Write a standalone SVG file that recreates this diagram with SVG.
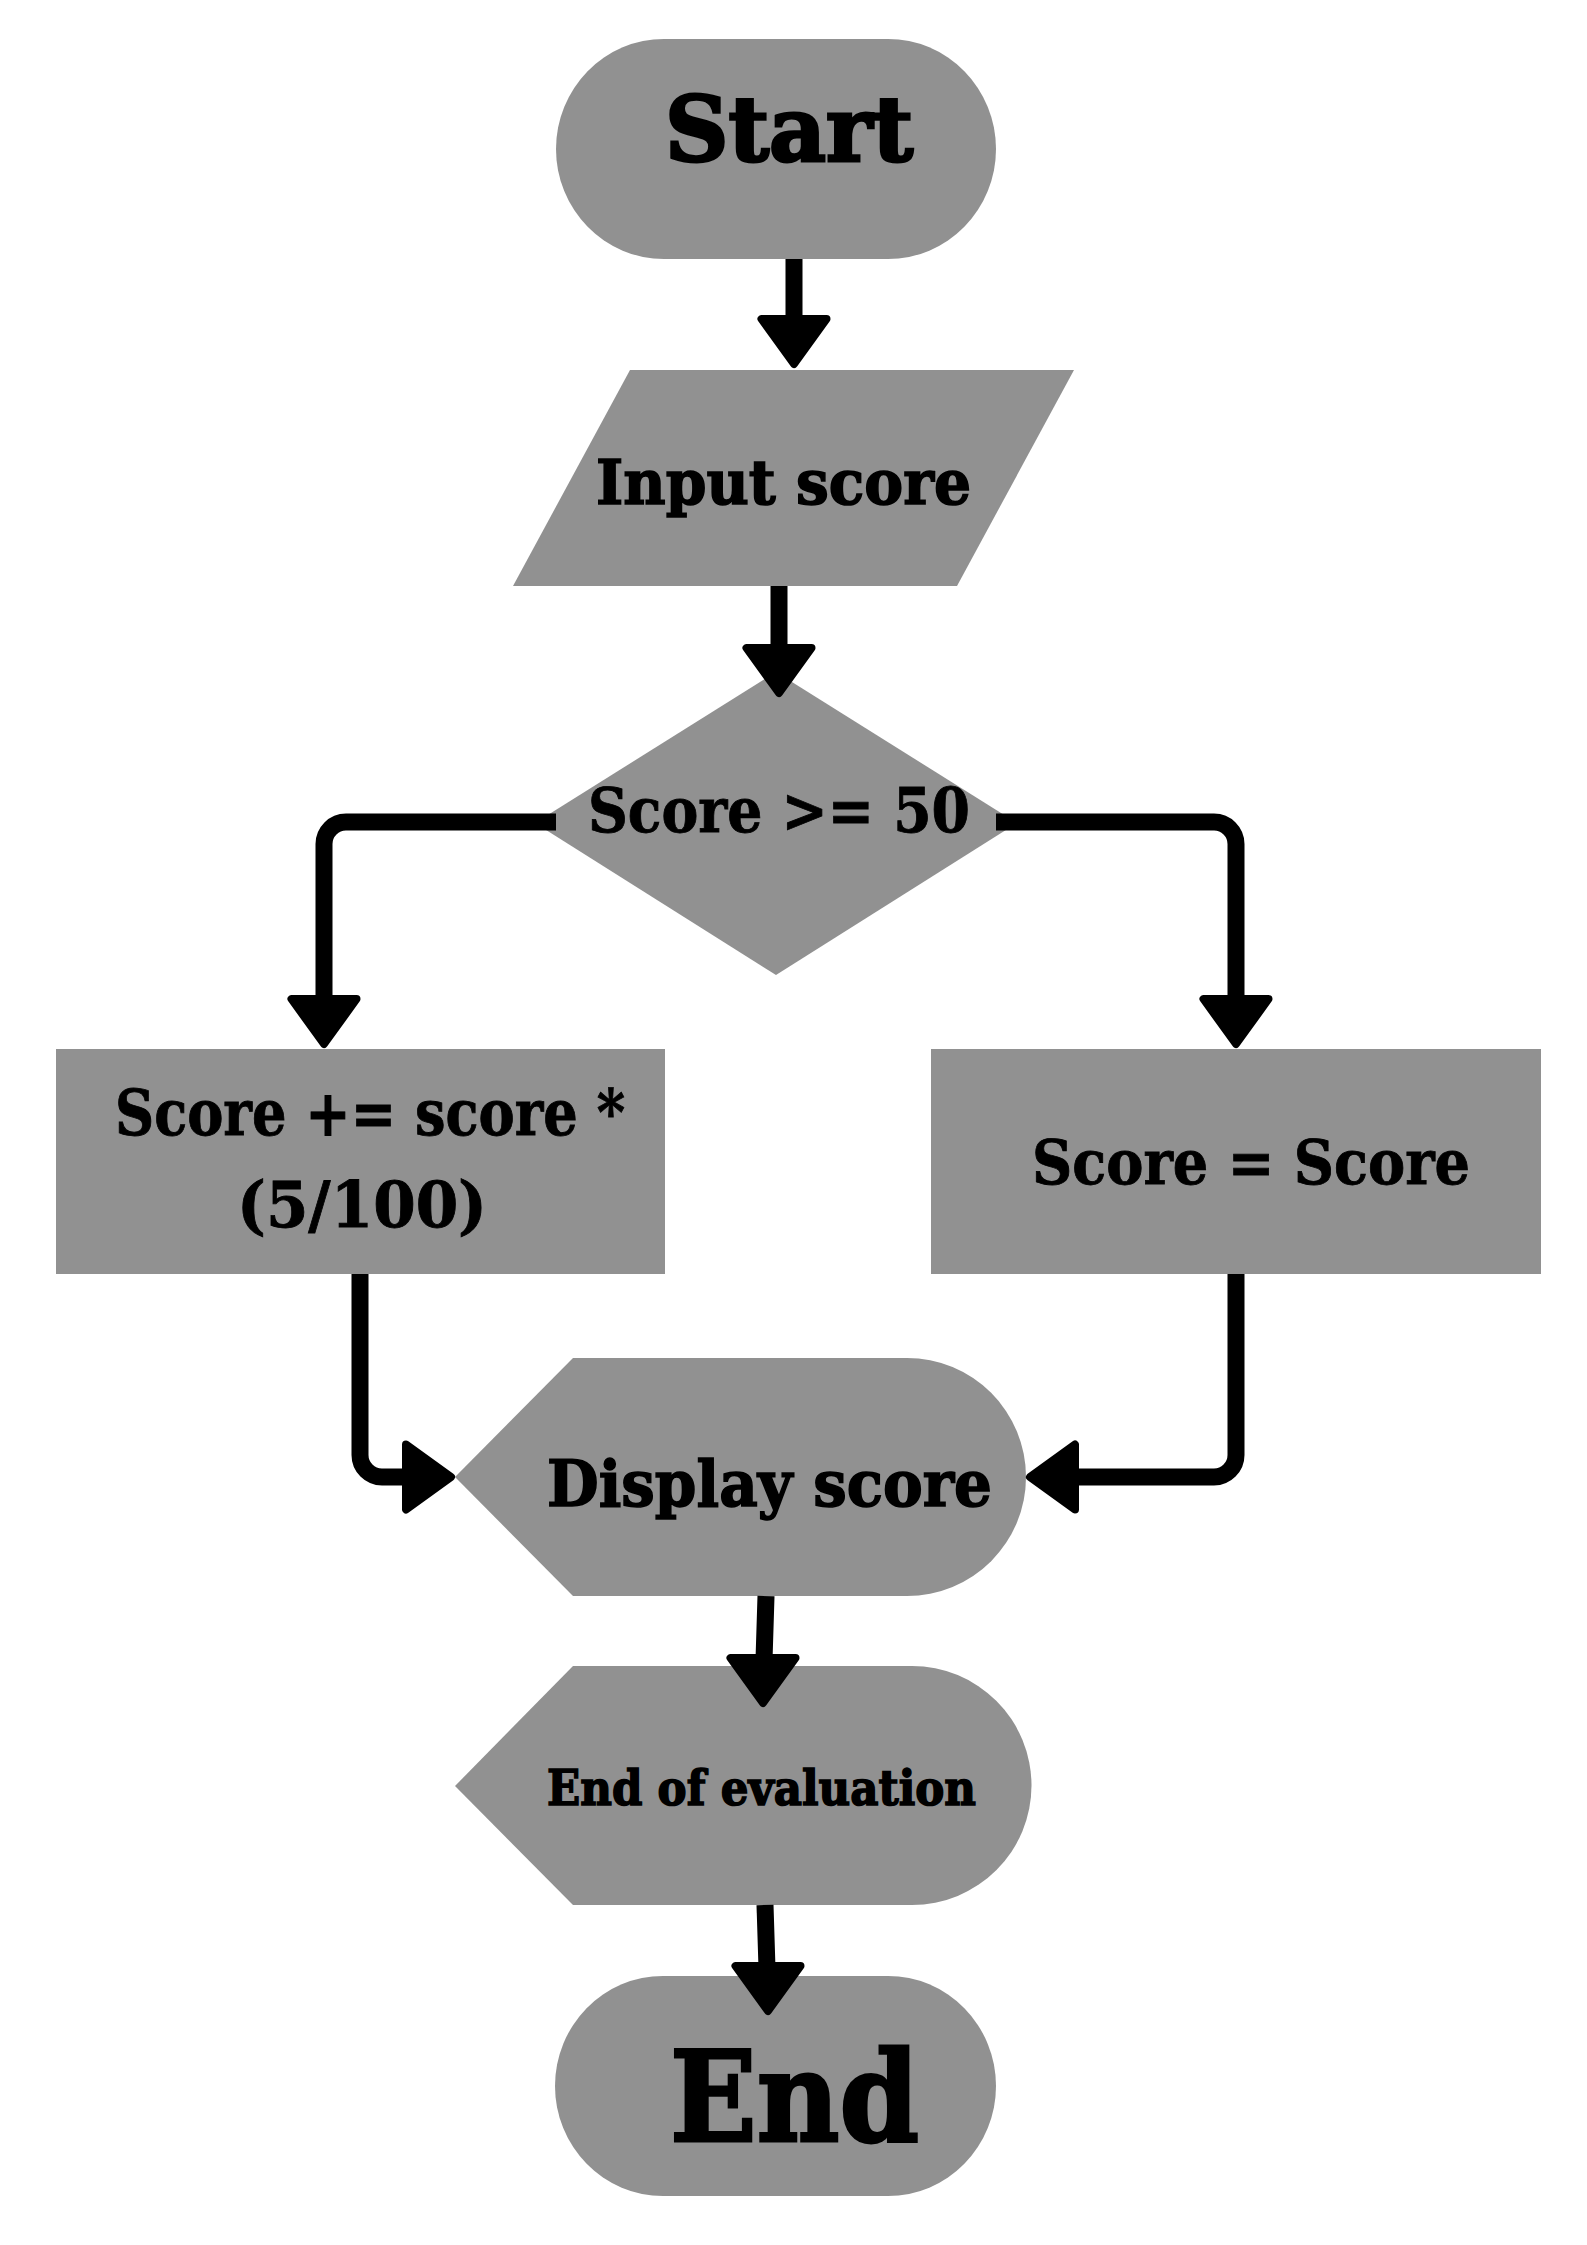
<svg xmlns="http://www.w3.org/2000/svg" width="1587" height="2245" viewBox="0 0 1587 2245">
  <style>
    .shape { fill: #919191; }
    .wire { fill: none; stroke: #000; stroke-width: 17; }
    .head { fill: #000; stroke: #000; stroke-width: 8; stroke-linejoin: round; }
    .slab { font-family: "DejaVu Serif", "Liberation Serif", serif; font-weight: bold; fill: #000; stroke: #000; stroke-width: 1.6; }
    .big { stroke-width: 3; }
    .cond { font-family: "DejaVu Serif Condensed", "DejaVu Serif", "Liberation Serif", serif; font-stretch: condensed; font-weight: bold; fill: #000; stroke: #000; stroke-width: 0.8; }
  </style>
  <defs>
    <!-- arrowhead pointing down, tip at the origin -->
    <path id="ah" class="head" d="M-32.5,-49 L32.5,-49 L0,-4 Z"/>
  </defs>
  <rect width="1587" height="2245" fill="#fff"/>

  <g id="start">
    <rect class="shape" x="556" y="39" width="440" height="220" rx="108" ry="110"/>
    <text class="slab big" x="665" y="161" font-size="89" textLength="248" lengthAdjust="spacingAndGlyphs">Start</text>
  </g>

  <g id="input">
    <polygon class="shape" points="630,370 1074,370 957,586 513,586"/>
    <text class="slab" x="596" y="504" font-size="62" textLength="375" lengthAdjust="spacingAndGlyphs">Input score</text>
  </g>

  <g id="decision">
    <polygon class="shape" points="776,672 1017,823 776,975 535,823"/>
    <text class="cond" x="588" y="832" font-size="62" textLength="382" lengthAdjust="spacingAndGlyphs">Score &gt;= 50</text>
  </g>

  <g id="bonus">
    <rect class="shape" x="56" y="1049" width="609" height="225"/>
    <text class="cond" x="115" y="1135" font-size="64" textLength="510" lengthAdjust="spacingAndGlyphs">Score += score *</text>
    <text class="cond" x="237" y="1227" font-size="64" textLength="250" lengthAdjust="spacingAndGlyphs">(5/100)</text>
  </g>

  <g id="keep">
    <rect class="shape" x="931" y="1049" width="610" height="225"/>
    <text class="cond" x="1032" y="1184" font-size="62" textLength="438" lengthAdjust="spacingAndGlyphs">Score = Score</text>
  </g>

  <g id="display">
    <path class="shape" d="M455,1477 L573,1358 L907,1358 A119,119 0 0 1 907,1596 L573,1596 Z"/>
    <text class="slab" x="547" y="1506" font-size="64" textLength="445" lengthAdjust="spacingAndGlyphs">Display score</text>
  </g>

  <g id="end-eval">
    <path class="shape" d="M455,1786 L573,1666 L912,1666 A119.5,119.5 0 0 1 912,1905 L573,1905 Z"/>
    <text class="slab" x="547" y="1805" font-size="48" textLength="429" lengthAdjust="spacingAndGlyphs">End of evaluation</text>
  </g>

  <g id="end">
    <rect class="shape" x="555" y="1976" width="441" height="220" rx="108" ry="110"/>
    <text class="slab big" x="670" y="2141" font-size="125" textLength="249" lengthAdjust="spacingAndGlyphs">End</text>
  </g>

  <g id="connectors">
    <!-- Start to Input -->
    <path class="wire" d="M794,259 V322"/>
    <use href="#ah" transform="translate(794,368)"/>
    <!-- Input to decision -->
    <path class="wire" d="M779,586 V650"/>
    <use href="#ah" transform="translate(779,697)"/>
    <!-- decision, left branch -->
    <path class="wire" d="M556,822 H346 A22,22 0 0 0 324,844 V1000"/>
    <use href="#ah" transform="translate(324,1048)"/>
    <!-- decision, right branch -->
    <path class="wire" d="M996,822 H1214 A22,22 0 0 1 1236,844 V1000"/>
    <use href="#ah" transform="translate(1236,1048)"/>
    <!-- left box to Display -->
    <path class="wire" d="M360,1274 V1455 A22,22 0 0 0 382,1477 H408"/>
    <use href="#ah" transform="translate(455,1477) rotate(-90)"/>
    <!-- right box to Display -->
    <path class="wire" d="M1236,1274 V1455 A22,22 0 0 1 1214,1477 H1073"/>
    <use href="#ah" transform="translate(1026,1477) rotate(90)"/>
    <!-- Display to End of evaluation -->
    <path class="wire" d="M766,1596 L764,1660"/>
    <use href="#ah" transform="translate(763,1707)"/>
    <!-- End of evaluation to End -->
    <path class="wire" d="M765,1905 L767,1968"/>
    <use href="#ah" transform="translate(768,2015)"/>
  </g>
</svg>
